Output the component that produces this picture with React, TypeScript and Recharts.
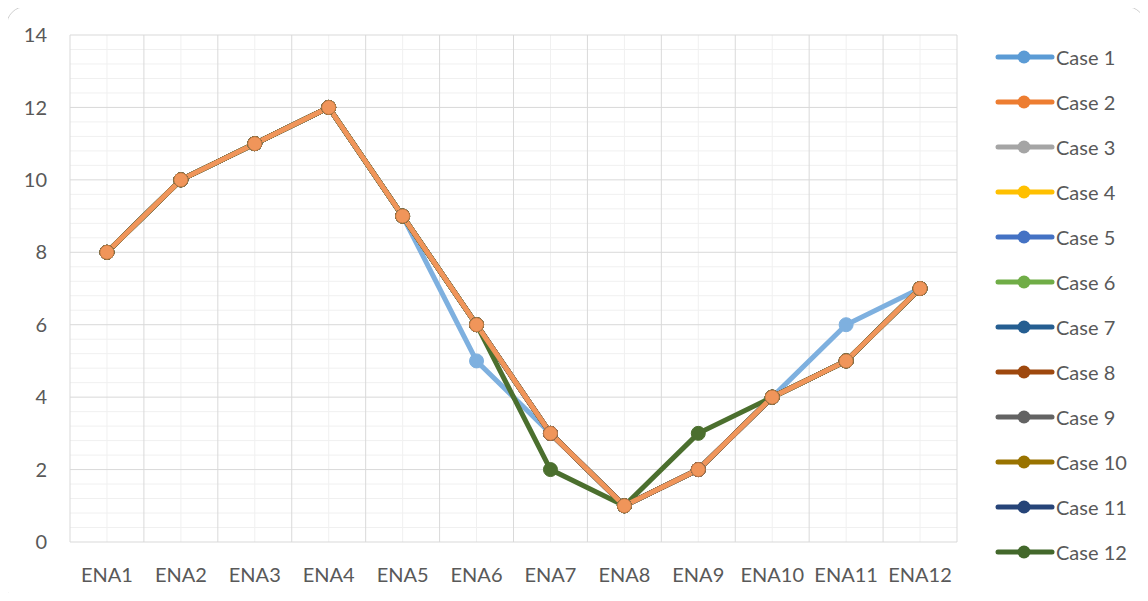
import React from 'react';
import {
  CartesianGrid,
  Line,
  LineChart,
  XAxis,
  YAxis,
} from 'recharts';

// categorias e séries
const categories = ['ENA1', 'ENA2', 'ENA3', 'ENA4', 'ENA5', 'ENA6', 'ENA7', 'ENA8', 'ENA9', 'ENA10', 'ENA11', 'ENA12'];

const case1 = [8, 10, 11, 12, 9, 5, 3, 1, 2, 4, 6, 7];
const case2 = [8, 10, 11, 12, 9, 6, 3, 1, 2, 4, 5, 7];
const case3 = [8, 10, 11, 12, 9, 6, 3, 1, 2, 4, 5, 7];
const case4 = [8, 10, 11, 12, 9, 6, 3, 1, 2, 4, 5, 7];
const case5 = [8, 10, 11, 12, 9, 6, 3, 1, 2, 4, 5, 7];
const case6 = [8, 10, 11, 12, 9, 6, 3, 1, 2, 4, 5, 7];
const case7 = [8, 10, 11, 12, 9, 6, 3, 1, 2, 4, 5, 7];
const case8 = [8, 10, 11, 12, 9, 6, 3, 1, 2, 4, 5, 7];
const case9 = [8, 10, 11, 12, 9, 6, 3, 1, 2, 4, 5, 7];
const case10 = [8, 10, 11, 12, 9, 6, 3, 1, 2, 4, 5, 7];
const case11 = [8, 10, 11, 12, 9, 6, 3, 1, 2, 4, 5, 7];
const case12 = [8, 10, 11, 12, 9, 6, 2, 1, 3, 4, 5, 7];

const yTicks = [0, 2, 4, 6, 8, 10, 12, 14];

const series = [
  { key: 'case1', name: 'Case 1', values: case1, color: '#5B9BD5', lineColor: '#7EB0DF' },
  { key: 'case2', name: 'Case 2', values: case2, color: '#ED7D31', lineColor: '#F0955A' },
  { key: 'case3', name: 'Case 3', values: case3, color: '#A5A5A5', lineColor: '#A5A5A5' },
  { key: 'case4', name: 'Case 4', values: case4, color: '#FFC000', lineColor: '#FFC000' },
  { key: 'case5', name: 'Case 5', values: case5, color: '#4472C4', lineColor: '#4472C4' },
  { key: 'case6', name: 'Case 6', values: case6, color: '#70AD47', lineColor: '#70AD47' },
  { key: 'case7', name: 'Case 7', values: case7, color: '#255E91', lineColor: '#255E91' },
  { key: 'case8', name: 'Case 8', values: case8, color: '#9E480E', lineColor: '#9E480E' },
  { key: 'case9', name: 'Case 9', values: case9, color: '#636363', lineColor: '#636363' },
  { key: 'case10', name: 'Case 10', values: case10, color: '#997300', lineColor: '#997300' },
  { key: 'case11', name: 'Case 11', values: case11, color: '#264478', lineColor: '#264478' },
  { key: 'case12', name: 'Case 12', values: case12, color: '#43682B', lineColor: '#4B6F2E' },
];

// ordem de desenho: Case 2 fica por cima de todas
const drawOrder = ['case1', 'case3', 'case4', 'case5', 'case6', 'case7', 'case8', 'case9', 'case10', 'case11', 'case12', 'case2'];

const data = categories.map((label, i) => {
  const row: Record<string, number | string> = { x: i + 1, label };
  series.forEach(s => {
    row[s.key] = s.values[i];
  });
  return row;
});

const xTicks = categories.map((_, i) => i + 1);
// linhas principais entre categorias, secundárias no centro
const xMajor = [0.5, ...categories.map((_, i) => i + 1.5)];
const yMinor = yTicks.slice(1).flatMap(t => [t - 1.6, t - 1.2, t - 0.8, t - 0.4]);

const FONT = 'Lato, "Open Sans", sans-serif';
const TEXT = '#595959';

export default function App() {
  return (
    <div style={{ position: 'relative', width: 1148, height: 601, margin: -8, background: '#fff', fontFamily: FONT, overflow: 'hidden' }}>
      <div
        style={{
          position: 'absolute',
          left: 6,
          top: 6,
          width: 1140,
          height: 600,
          border: '1.5px solid #D0D0D0',
          borderRadius: 20,
          boxSizing: 'border-box',
        }}
      />
      <div style={{ position: 'absolute', left: 7, top: 7 }}>
        <LineChart width={1138} height={594} data={data} margin={{ top: 28, right: 188, left: 0, bottom: 0 }}>
          <CartesianGrid stroke='#F0F0F0' strokeWidth={1} horizontalValues={yMinor} verticalValues={xTicks} />
          <CartesianGrid stroke='#D9D9D9' strokeWidth={1} horizontalValues={yTicks} verticalValues={xMajor} />
          <XAxis
            dataKey='x'
            type='number'
            domain={[0.5, 12.5]}
            ticks={xTicks}
            interval={0}
            tickFormatter={v => categories[v - 1]}
            height={59}
            axisLine={false}
            tickLine={false}
            tickSize={0}
            tickMargin={26}
            tick={{ fill: TEXT, fontSize: 20, fontFamily: FONT }}
          />
          <YAxis
            domain={[0, 14]}
            ticks={yTicks}
            interval={0}
            width={63}
            axisLine={false}
            tickLine={false}
            tickSize={0}
            tickMargin={23}
            tick={{ fill: TEXT, fontSize: 20, fontFamily: FONT }}
          />
          {drawOrder.map(k => {
            const s = series.find(x => x.key === k)!;
            const top = k === 'case2';
            return (
              <Line
                key={k}
                dataKey={k}
                name={s.name}
                type='linear'
                stroke={s.lineColor}
                strokeWidth={5}
                dot={{ r: 7, fill: s.lineColor, stroke: top ? '#C77A45' : s.lineColor, strokeWidth: 1 }}
                activeDot={false}
                isAnimationActive={false}
              />
            );
          })}
        </LineChart>
      </div>
      {series.map((s, i) => (
        <div
          key={s.key}
          style={{
            position: 'absolute',
            left: 995,
            top: 57 + i * 45 - 12,
            height: 24,
            display: 'flex',
            alignItems: 'center',
          }}
        >
          <svg width={60} height={24}>
            <line x1={3} y1={12} x2={57} y2={12} stroke={s.color} strokeWidth={5} strokeLinecap='round' />
            <circle cx={29} cy={12} r={6.5} fill={s.color} />
          </svg>
          <span style={{ marginLeft: 1, fontSize: 20, color: TEXT, lineHeight: '24px' }}>{s.name}</span>
        </div>
      ))}
    </div>
  );
}
